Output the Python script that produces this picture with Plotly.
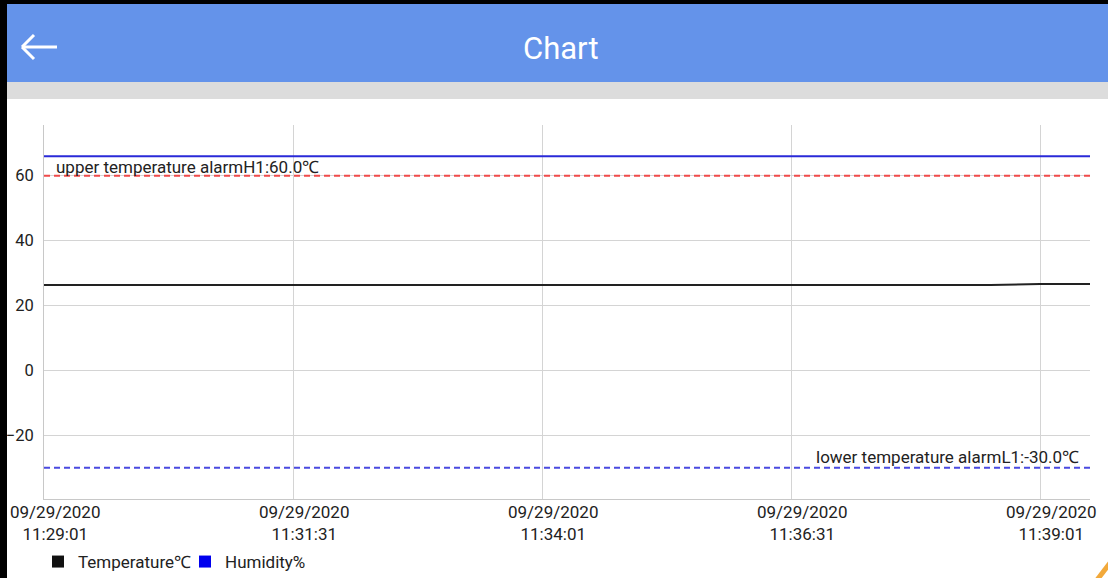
import plotly.graph_objects as go

# ---------------- data ----------------
times = [
    "2020-09-29 11:29:01", "2020-09-29 11:29:31", "2020-09-29 11:30:01", "2020-09-29 11:30:31",
    "2020-09-29 11:31:01", "2020-09-29 11:31:31", "2020-09-29 11:32:01", "2020-09-29 11:32:31",
    "2020-09-29 11:33:01", "2020-09-29 11:33:31", "2020-09-29 11:34:01", "2020-09-29 11:34:31",
    "2020-09-29 11:35:01", "2020-09-29 11:35:31", "2020-09-29 11:36:01", "2020-09-29 11:36:31",
    "2020-09-29 11:37:01", "2020-09-29 11:37:31", "2020-09-29 11:38:01", "2020-09-29 11:38:31",
    "2020-09-29 11:39:01", "2020-09-29 11:39:31",
]
temperature = [26.3, 26.3, 26.3, 26.3, 26.3, 26.3, 26.3, 26.3, 26.3, 26.3, 26.3,
               26.3, 26.3, 26.3, 26.3, 26.3, 26.3, 26.3, 26.3, 26.3, 26.6, 26.6]
humidity = [66.0, 66.0, 66.0, 66.0, 66.0, 66.0, 66.0, 66.0, 66.0, 66.0, 66.0,
            66.0, 66.0, 66.0, 66.0, 66.0, 66.0, 66.0, 66.0, 66.0, 66.0, 66.0]

upper_limit = 60.0
lower_limit = -30.0
upper_label = "upper temperature alarmH1:60.0℃"
lower_label = "lower temperature alarmL1:-30.0℃"

tick_times = ["2020-09-29 11:29:01", "2020-09-29 11:31:31", "2020-09-29 11:34:01",
              "2020-09-29 11:36:31", "2020-09-29 11:39:01"]
tick_dates = ["09/29/2020", "09/29/2020", "09/29/2020", "09/29/2020", "09/29/2020"]
tick_clock = ["11:29:01", "11:31:31", "11:34:01", "11:36:31", "11:39:01"]
y_ticks = [-20, 0, 20, 40, 60]

series_names = ["Temperature℃", "Humidity%"]
series_colors = ["#222222", "#2a2ad8"]
legend_colors = ["#111111", "#0000ee"]

# ---------------- layout geometry ----------------
W, H = 1108, 578
L, R, T, B = 44, 18, 125, 79
PW, PH = W - L - R, H - T - B
FONT = "Roboto"


def px(x):
    return (x - L) / PW


def py(y):
    return (H - B - y) / PH


# y range like MPAndroidChart auto (10% padding on data incl. limit lines)
lo = min(min(temperature), min(humidity), lower_limit)
hi = max(max(temperature), max(humidity), upper_limit)
span = hi - lo
y_range = [lo - 0.1 * span, hi + 0.1 * span]

fig = go.Figure()

fig.add_trace(go.Scatter(x=times, y=temperature, mode="lines", name=series_names[0],
                         line=dict(color=series_colors[0], width=2), showlegend=False))
fig.add_trace(go.Scatter(x=times, y=humidity, mode="lines", name=series_names[1],
                         line=dict(color=series_colors[1], width=2), showlegend=False))
# legend entries as square swatches (one legend box per entry for exact spacing)
legend_ids = ["legend", "legend2"]
for nm, col, lg in zip(series_names, legend_colors, legend_ids):
    fig.add_trace(go.Scatter(x=[None], y=[None], mode="markers", name=nm, legend=lg,
                             marker=dict(symbol="square", size=12, color=col)))

shapes = []
# limit lines
shapes.append(dict(type="line", xref="paper", yref="y", x0=0, x1=1, y0=upper_limit, y1=upper_limit,
                   line=dict(color="#f04a4a", width=2, dash="6px,4px"), layer="above"))
shapes.append(dict(type="line", xref="paper", yref="y", x0=0, x1=1, y0=lower_limit, y1=lower_limit,
                   line=dict(color="#4a4ae0", width=2, dash="6px,4px"), layer="above"))
# app header
shapes.append(dict(type="rect", xref="paper", yref="paper", x0=px(0), x1=px(W), y0=py(0), y1=py(82),
                   fillcolor="#6493ea", line=dict(width=0), layer="below"))
shapes.append(dict(type="rect", xref="paper", yref="paper", x0=px(0), x1=px(W), y0=py(82), y1=py(99),
                   fillcolor="#dcdcdc", line=dict(width=0), layer="below"))
# frame
shapes.append(dict(type="rect", xref="paper", yref="paper", x0=px(0), x1=px(7), y0=py(0), y1=py(H),
                   fillcolor="#000000", line=dict(width=0)))
shapes.append(dict(type="rect", xref="paper", yref="paper", x0=px(0), x1=px(W), y0=py(0), y1=py(4),
                   fillcolor="#000000", line=dict(width=0)))
# back arrow
for (x0, y0, x1, y1) in [(22, 47, 57, 47), (22, 47, 34, 35), (22, 47, 34, 59)]:
    shapes.append(dict(type="line", xref="paper", yref="paper", x0=px(x0), y0=py(y0), x1=px(x1), y1=py(y1),
                       line=dict(color="white", width=3)))
# orange corner decoration
shapes.append(dict(type="line", xref="paper", yref="paper", x0=px(1097), y0=py(580), x1=px(1110), y1=py(563),
                   line=dict(color="#f2a93b", width=5)))

annotations = []
annotations.append(dict(text="Chart", xref="paper", yref="paper", x=px(561), y=py(48),
                        showarrow=False, font=dict(family=FONT, size=31, color="white"),
                        xanchor="center", yanchor="middle"))
annotations.append(dict(text=upper_label, xref="paper", yref="y", x=px(54), y=upper_limit, yshift=9,
                        showarrow=False, font=dict(family=FONT, size=17, color="#222"),
                        xanchor="left", yanchor="middle"))
annotations.append(dict(text=lower_label, xref="paper", yref="y", x=px(1081), y=lower_limit, yshift=11,
                        showarrow=False, font=dict(family=FONT, size=17, color="#222"),
                        xanchor="right", yanchor="middle"))
for t, d, c in zip(tick_times, tick_dates, tick_clock):
    annotations.append(dict(text=d + "<br>" + c, xref="x", yref="paper", x=t, y=0, xshift=11, yshift=-24,
                            showarrow=False, font=dict(family=FONT, size=17, color="#222"),
                            xanchor="center", yanchor="middle", align="center"))

legend_common = dict(orientation="h", xanchor="left", y=py(562), yanchor="middle",
                     font=dict(family=FONT, size=17, color="#222"), bgcolor="rgba(0,0,0,0)",
                     itemclick=False, itemdoubleclick=False)

fig.update_layout(
    width=W, height=H,
    margin=dict(l=L, r=R, t=T, b=B, pad=0, autoexpand=False),
    paper_bgcolor="white", plot_bgcolor="white",
    font=dict(family=FONT, color="#222"),
    shapes=shapes, annotations=annotations,
    legend=dict(x=px(38), **legend_common),
    legend2=dict(x=px(185), **legend_common),
    xaxis=dict(range=[times[0], times[-1]], tickvals=tick_times, showticklabels=False,
               showgrid=True, gridcolor="#d4d4d4", gridwidth=1, zeroline=False,
               showline=True, linecolor="#c8c8c8", linewidth=1, ticks=""),
    yaxis=dict(range=y_range, tickvals=y_ticks, showgrid=True, gridcolor="#d4d4d4", gridwidth=1,
               zeroline=False, showline=True, linecolor="#c8c8c8", linewidth=1, ticks="",
               tickfont=dict(family=FONT, size=16.5, color="#222"), ticklabelstandoff=6),
    hovermode=False,
)

fig.write_html("out.html", config={"displayModeBar": False},
               post_script="document.body.style.margin='0';document.body.style.overflow='hidden';")
